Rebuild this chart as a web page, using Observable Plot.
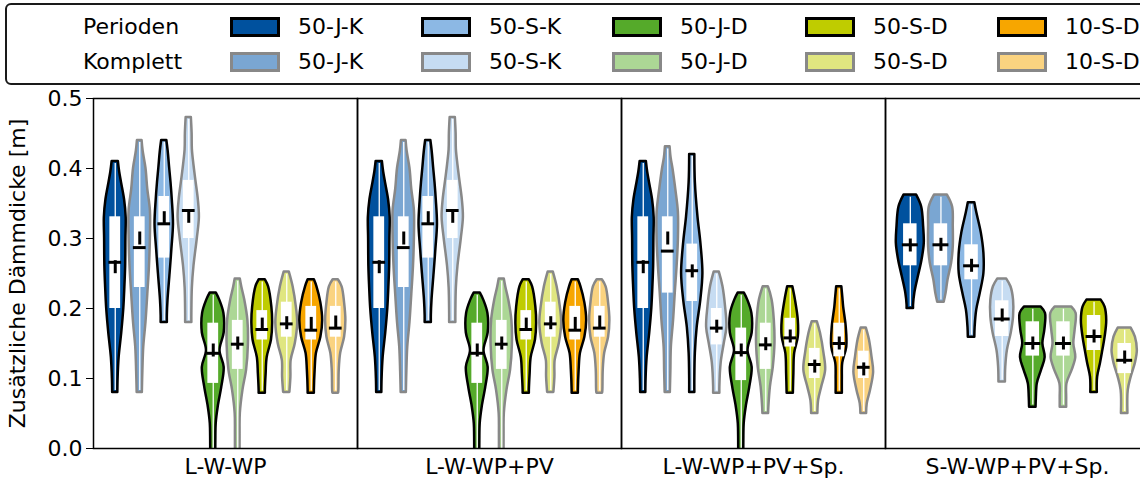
<!DOCTYPE html>
<html><head><meta charset="utf-8">
<script src="https://cdn.jsdelivr.net/npm/d3@7"></script>
<script src="https://cdn.jsdelivr.net/npm/@observablehq/plot@0.6"></script>
<style>
html,body{margin:0;padding:0;background:#fff;overflow:hidden;width:1140px;height:481px;}
body{font-family:"DejaVu Sans",sans-serif;color:#000;}
#legend{position:relative;height:88px;width:1140px;overflow:hidden;}
.lbox{position:absolute;left:5px;top:3px;width:1200px;height:82px;box-sizing:border-box;border:2px solid #1a1a1a;border-radius:6px;}
.lt{position:absolute;font-size:22px;line-height:1;white-space:nowrap;}
.sw{position:absolute;width:50px;height:20px;box-sizing:border-box;border:3px solid #000;}
#chart{width:1160px;}
</style></head><body>
<div id="legend"></div><div id="chart"></div>
<script>
// ---------- data ----------
const facetNames = ["L-W-WP", "L-W-WP+PV", "L-W-WP+PV+Sp.", "S-W-WP+PV+Sp."];
const variants = ["50-J-K", "50-S-K", "50-J-D", "50-S-D", "10-S-D"];
const groups = ["Perioden", "Komplett"];
const fillPerioden = ["#00519e", "#8cb8e4", "#55aa2a", "#bfcc00", "#f7a600"];
const fillKomplett = ["#7aa6d2", "#c6dcf2", "#acd795", "#e0e680", "#fad380"];
const edgeColor = {Perioden: "#000000", Komplett: "#888888"};

// violin profiles: [value, half-width as fraction of slot], order: variant x (Perioden, Komplett)
const profLWWP = [
  [[0.41,0.12],[0.395,0.17],[0.38,0.24],[0.355,0.36],[0.33,0.42],[0.30,0.41],[0.26,0.40],[0.23,0.37],[0.20,0.33],[0.165,0.25],[0.13,0.15],[0.10,0.11],[0.08,0.10]],
  [[0.44,0.09],[0.425,0.13],[0.40,0.24],[0.37,0.31],[0.34,0.41],[0.30,0.41],[0.26,0.375],[0.22,0.31],[0.18,0.24],[0.145,0.155],[0.11,0.12],[0.08,0.10]],
  [[0.44,0.10],[0.425,0.15],[0.40,0.21],[0.38,0.26],[0.355,0.31],[0.32,0.355],[0.285,0.295],[0.25,0.225],[0.212,0.145],[0.19,0.12],[0.18,0.12]],
  [[0.473,0.10],[0.45,0.13],[0.427,0.14],[0.405,0.20],[0.384,0.27],[0.355,0.37],[0.33,0.41],[0.30,0.33],[0.26,0.20],[0.23,0.14],[0.193,0.12],[0.18,0.12]],
  [[0.222,0.12],[0.212,0.25],[0.193,0.41],[0.165,0.42],[0.14,0.26],[0.116,0.42],[0.088,0.33],[0.059,0.19],[0.036,0.115],[0.011,0.10],[-0.02,0.10]],
  [[0.242,0.10],[0.23,0.16],[0.212,0.27],[0.183,0.39],[0.148,0.41],[0.112,0.34],[0.083,0.20],[0.05,0.10],[0.02,0.09],[-0.02,0.09]],
  [[0.241,0.12],[0.231,0.245],[0.202,0.37],[0.179,0.40],[0.155,0.355],[0.13,0.19],[0.107,0.15],[0.083,0.12],[0.079,0.12]],
  [[0.252,0.10],[0.231,0.245],[0.202,0.37],[0.179,0.42],[0.15,0.33],[0.126,0.17],[0.102,0.16],[0.08,0.12]],
  [[0.241,0.12],[0.231,0.22],[0.208,0.37],[0.183,0.44],[0.159,0.37],[0.136,0.20],[0.112,0.15],[0.083,0.12],[0.079,0.12]],
  [[0.241,0.10],[0.231,0.245],[0.208,0.34],[0.183,0.39],[0.159,0.34],[0.136,0.19],[0.112,0.135],[0.083,0.12],[0.079,0.11]]
];
const q1LWWP   = [0.20, 0.23, 0.272, 0.30, 0.093, 0.113, 0.155, 0.159, 0.155, 0.159];
const medLWWP  = [0.266, 0.287, 0.321, 0.34, 0.136, 0.149, 0.17, 0.178, 0.169, 0.172];
const meanLWWP = [0.259, 0.30, 0.329, 0.331, 0.140, 0.150, 0.177, 0.179, 0.178, 0.18];
const q3LWWP   = [0.331, 0.331, 0.36, 0.383, 0.179, 0.183, 0.197, 0.209, 0.203, 0.203];

// L-W-WP+PV reads the same as L-W-WP
const profLWWPPV = profLWWP;
const q1LWWPPV = q1LWWP, medLWWPPV = medLWWP, meanLWWPPV = meanLWWP, q3LWWPPV = q3LWWP;

const profLSp = [
  [[0.41,0.12],[0.395,0.17],[0.38,0.24],[0.355,0.36],[0.33,0.42],[0.30,0.41],[0.26,0.40],[0.23,0.37],[0.20,0.33],[0.165,0.25],[0.13,0.15],[0.10,0.11],[0.08,0.10]],
  [[0.431,0.09],[0.415,0.13],[0.40,0.20],[0.37,0.31],[0.337,0.41],[0.298,0.41],[0.26,0.36],[0.222,0.29],[0.183,0.225],[0.145,0.14],[0.11,0.12],[0.08,0.10]],
  [[0.42,0.10],[0.38,0.12],[0.331,0.22],[0.294,0.33],[0.25,0.41],[0.212,0.33],[0.173,0.19],[0.136,0.12],[0.10,0.10],[0.08,0.10]],
  [[0.252,0.10],[0.231,0.24],[0.202,0.34],[0.173,0.39],[0.15,0.29],[0.122,0.17],[0.088,0.12],[0.079,0.12]],
  [[0.222,0.12],[0.212,0.25],[0.193,0.41],[0.165,0.42],[0.14,0.26],[0.116,0.42],[0.088,0.33],[0.059,0.19],[0.036,0.115],[0.011,0.10],[-0.02,0.10]],
  [[0.231,0.10],[0.212,0.245],[0.183,0.33],[0.15,0.355],[0.116,0.29],[0.088,0.18],[0.059,0.12],[0.05,0.11]],
  [[0.231,0.10],[0.212,0.20],[0.183,0.31],[0.159,0.31],[0.136,0.17],[0.107,0.14],[0.079,0.12]],
  [[0.181,0.10],[0.165,0.22],[0.136,0.355],[0.112,0.42],[0.088,0.27],[0.069,0.15],[0.05,0.12]],
  [[0.231,0.10],[0.215,0.14],[0.202,0.17],[0.173,0.27],[0.145,0.29],[0.122,0.135],[0.10,0.12],[0.079,0.12]],
  [[0.172,0.10],[0.155,0.22],[0.13,0.32],[0.109,0.38],[0.083,0.26],[0.064,0.135],[0.05,0.11]]
];
const q1LSp   = [0.20, 0.222, 0.21, 0.148, 0.097, 0.113, 0.145, 0.10, 0.131, 0.10];
const medLSp  = [0.266, 0.282, 0.254, 0.172, 0.137, 0.148, 0.158, 0.12, 0.15, 0.116];
const meanLSp = [0.259, 0.30, 0.253, 0.174, 0.14, 0.149, 0.16, 0.117, 0.15, 0.113];
const q3LSp   = [0.331, 0.331, 0.292, 0.20, 0.172, 0.179, 0.186, 0.143, 0.179, 0.139];

const profSSp = [
  [[0.362,0.195],[0.345,0.35],[0.317,0.41],[0.293,0.43],[0.269,0.36],[0.245,0.245],[0.222,0.14],[0.205,0.10],[0.20,0.10]],
  [[0.362,0.20],[0.345,0.36],[0.317,0.38],[0.288,0.38],[0.265,0.33],[0.241,0.22],[0.222,0.16],[0.209,0.10]],
  [[0.351,0.10],[0.337,0.16],[0.308,0.30],[0.279,0.38],[0.25,0.38],[0.222,0.27],[0.198,0.16],[0.173,0.11],[0.159,0.10]],
  [[0.242,0.14],[0.231,0.27],[0.212,0.35],[0.188,0.35],[0.165,0.28],[0.14,0.16],[0.116,0.11],[0.095,0.10]],
  [[0.202,0.26],[0.193,0.39],[0.169,0.37],[0.15,0.31],[0.13,0.38],[0.112,0.27],[0.093,0.14],[0.073,0.11],[0.059,0.10]],
  [[0.202,0.26],[0.193,0.39],[0.169,0.36],[0.15,0.32],[0.13,0.38],[0.112,0.27],[0.093,0.11],[0.073,0.10],[0.059,0.10]],
  [[0.212,0.22],[0.202,0.34],[0.183,0.39],[0.159,0.34],[0.14,0.27],[0.122,0.20],[0.102,0.11],[0.08,0.10]],
  [[0.172,0.20],[0.159,0.33],[0.14,0.39],[0.122,0.33],[0.102,0.20],[0.083,0.11],[0.05,0.10]]
];
const q1SSp   = [0.261, 0.261, 0.241, 0.16, 0.132, 0.132, 0.14, 0.107];
const medSSp  = [0.291, 0.291, 0.261, 0.185, 0.15, 0.15, 0.16, 0.126];
const meanSSp = [0.29, 0.291, 0.261, 0.19, 0.15, 0.15, 0.16, 0.13];
const q3SSp   = [0.321, 0.321, 0.291, 0.211, 0.181, 0.181, 0.19, 0.15];

const yTicks = [0, 0.1, 0.2, 0.3, 0.4, 0.5];

// ---------- layout constants ----------
const facetPx = 264, insetPx = 9.5;
const widthScale = 1.06;
const boxHalf = 0.22, medHalf = 0.26;
const plotH = 350, yUnitPx = plotH / 0.5, meanTickPx = 6.5;

// ---------- build tables ----------
const facetTables = [
  [facetNames[0], profLWWP, q1LWWP, medLWWP, meanLWWP, q3LWWP],
  [facetNames[1], profLWWPPV, q1LWWPPV, medLWWPPV, meanLWWPPV, q3LWWPPV],
  [facetNames[2], profLSp, q1LSp, medLSp, meanLSp, q3LSp],
  [facetNames[3], profSSp, q1SSp, medSSp, meanSSp, q3SSp]
];
const violins = [], pts = [];
for (const [name, prof, q1, med, mean, q3] of facetTables) {
  const n = prof.length;
  prof.forEach((p, i) => {
    const vi = Math.floor(i / 2), g = groups[i % 2];
    const color = (g === "Perioden" ? fillPerioden : fillKomplett)[vi];
    const id = name + "|" + i;
    const vs = p.map(d => d[0]);
    violins.push({facet: name, id, i, n, color, stroke: edgeColor[g],
      q1: q1[i], med: med[i], mean: mean[i], q3: q3[i], top: d3.max(vs), bottom: d3.min(vs)});
    p.slice().sort((a, b) => a[0] - b[0]).forEach(([v, w]) =>
      pts.push({facet: name, id, i, n, color, stroke: edgeColor[g], v, w}));
  });
}
const cx = d => (d.i + 0.5) / d.n;
const tickH = meanTickPx / yUnitPx;

// ---------- legend ----------
const legendColLeft = [230, 421, 612, 805, 997];
const legendTextGap = 68;
const legendRowTop = [17, 52];
const legend = document.getElementById("legend");
const box = document.createElement("div"); box.className = "lbox"; legend.appendChild(box);
function addText(txt, left, top) {
  const t = document.createElement("div"); t.className = "lt"; t.textContent = txt;
  t.style.left = left + "px"; t.style.top = top + "px"; legend.appendChild(t);
}
groups.forEach((g, r) => {
  const top = legendRowTop[r];
  addText(g, 83, top - 1);
  variants.forEach((v, c) => {
    const s = document.createElement("div"); s.className = "sw";
    s.style.left = legendColLeft[c] + "px"; s.style.top = top + "px";
    s.style.background = (g === "Perioden" ? fillPerioden : fillKomplett)[c];
    s.style.borderColor = edgeColor[g];
    legend.appendChild(s);
    addText(v, legendColLeft[c] + legendTextGap, top - 1);
  });
});

// ---------- chart ----------
const chart = Plot.plot({
  width: 93 + 4 * facetPx,
  height: 393,
  marginTop: 10,
  marginBottom: 33,
  marginLeft: 93,
  marginRight: 0,
  style: {fontFamily: "DejaVu Sans", fontSize: "22px", overflow: "visible", maxWidth: "none", color: "#000", background: "#fff"},
  fx: {domain: facetNames, padding: 0, label: null, tickSize: 0, tickPadding: 10, axis: "bottom"},
  x: {domain: [0, 1], axis: null, insetLeft: insetPx, insetRight: insetPx},
  y: {domain: [0, 0.5], ticks: yTicks, tickFormat: ".1f", tickSize: 7, tickPadding: 4,
      label: null},
  marks: [
    Plot.areaX(pts, {fx: "facet", z: "id", y: "v",
      x1: d => cx(d) - widthScale * d.w / d.n, x2: d => cx(d) + widthScale * d.w / d.n,
      fill: "color", stroke: "stroke", strokeWidth: 2.5, strokeLinejoin: "round",
      curve: "catmull-rom", clip: true}),
    Plot.ruleX(violins, {fx: "facet", x: cx, y1: d => d.bottom + 0.003, y2: d => d.top - 0.003,
      stroke: "white", strokeWidth: 1.3, clip: true}),
    Plot.rect(violins, {fx: "facet", x1: d => cx(d) - boxHalf / d.n, x2: d => cx(d) + boxHalf / d.n,
      y1: "q1", y2: "q3", fill: "white"}),
    Plot.ruleY(violins, {fx: "facet", y: "med", x1: d => cx(d) - medHalf / d.n, x2: d => cx(d) + medHalf / d.n,
      stroke: "black", strokeWidth: 3}),
    Plot.ruleX(violins, {fx: "facet", x: cx, y1: d => d.mean - tickH, y2: d => d.mean + tickH,
      stroke: "black", strokeWidth: 3}),
    Plot.frame({stroke: "#000", strokeWidth: 1.5}),
    Plot.axisY({ticks: yTicks, tickFormat: ".1f", tickSize: 7, tickPadding: 4, fontSize: 22,
      label: "Zusätzliche Dämmdicke [m]", labelAnchor: "center", labelArrow: "none", labelOffset: 84,
      facetAnchor: "left"})
  ]
});
document.getElementById("chart").appendChild(chart);
</script></body></html>
